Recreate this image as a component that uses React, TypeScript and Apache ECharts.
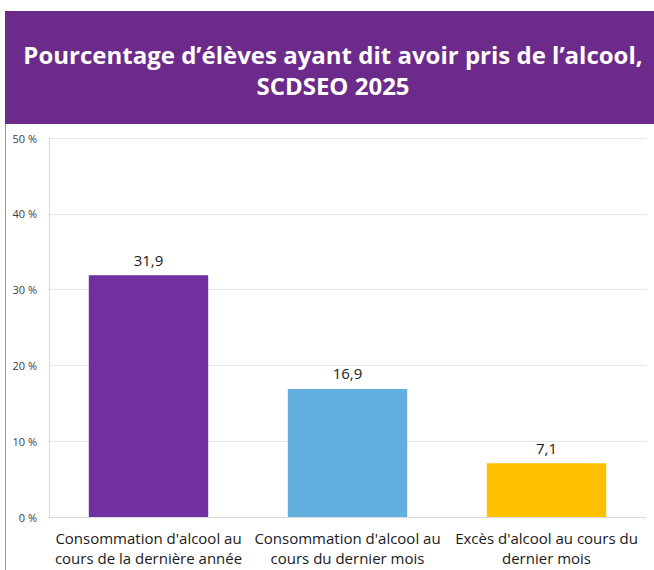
import React, { useEffect, useRef } from "react";
import * as echarts from "echarts";

const titleLines = ["Pourcentage d’élèves ayant dit avoir pris de l’alcool,", "SCDSEO 2025"];
const categories = [
  "Consommation d'alcool au\ncours de la dernière année",
  "Consommation d'alcool au\ncours du dernier mois",
  "Excès d'alcool au cours du\ndernier mois",
];
const values = [31.9, 16.9, 7.1];
const barColors = ["#7030A0", "#62AFE0", "#FFC000"];
const yTicks = [0, 10, 20, 30, 40, 50];

export default function App() {
  const ref = useRef<HTMLDivElement>(null);
  useEffect(() => {
    document.body.style.margin = "0";
    const chart = echarts.init(ref.current!, null, { renderer: "svg" });
    chart.setOption({
      animation: false,
      backgroundColor: "#ffffff",
      graphic: [
        {
          type: "rect",
          shape: { x: 5, y: 11, width: 660, height: 113 },
          style: { fill: "#6C2A8A" },
          z: 0,
        },
        {
          type: "line",
          shape: { x1: 5.5, y1: 124, x2: 5.5, y2: 570 },
          style: { stroke: "#9a9a9a", lineWidth: 1 },
        },
      ],
      title: {
        text: titleLines.join("\n"),
        left: 328,
        top: 34,
        textAlign: "center",
        textStyle: {
          color: "#ffffff",
          fontFamily: "Open Sans",
          fontWeight: "bold",
          fontSize: 24,
          lineHeight: 31,
        },
      },
      grid: { left: 49, right: 8, top: 138, bottom: 53, containLabel: false },
      xAxis: {
        type: "category",
        data: categories,
        axisLine: { show: true, lineStyle: { color: "#d9d9d9" } },
        axisTick: { show: false },
        axisLabel: {
          interval: 0,
          color: "#1a1a1a",
          fontFamily: "Open Sans",
          fontSize: 15,
          lineHeight: 20,
          margin: 11,
        },
      },
      yAxis: {
        type: "value",
        min: 0,
        max: 50,
        interval: 10,
        axisLine: { show: true, lineStyle: { color: "#d9d9d9" } },
        splitLine: { lineStyle: { color: "#e6e6e6" } },
        axisLabel: {
          color: "#404040",
          fontFamily: "Open Sans",
          fontSize: 11,
          margin: 12,
          formatter: (v: number) => (yTicks.includes(v) ? `${v} %` : ""),
        },
      },
      series: [
        {
          type: "bar",
          barWidth: "60%",
          data: values.map((v, i) => ({ value: v, itemStyle: { color: barColors[i] } })),
          label: {
            show: true,
            position: "top",
            distance: 8,
            color: "#1a1a1a",
            fontFamily: "Open Sans",
            fontSize: 15,
            formatter: (p: any) => String(p.value).replace(".", ","),
          },
        },
      ],
    });
    return () => chart.dispose();
  }, []);
  return <div ref={ref} style={{ width: 654, height: 570, position: "fixed", left: 0, top: 0 }} />;
}
